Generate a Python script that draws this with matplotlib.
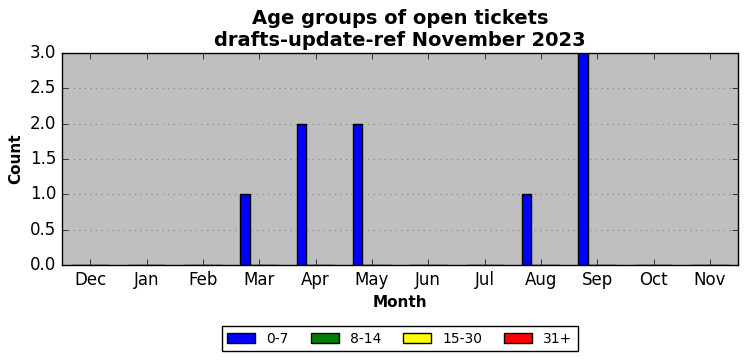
import numpy as np
import matplotlib.pyplot as plt

plt.style.use('classic')

months = ['Dec', 'Jan', 'Feb', 'Mar', 'Apr', 'May', 'Jun', 'Jul', 'Aug', 'Sep', 'Oct', 'Nov']
age_0_7 = [0, 0, 0, 1, 2, 2, 0, 0, 1, 3, 0, 0]
age_8_14 = [0, 0, 0, 0, 0, 0, 0, 0, 0, 0, 0, 0]
age_15_30 = [0, 0, 0, 0, 0, 0, 0, 0, 0, 0, 0, 0]
age_31 = [0, 0, 0, 0, 0, 0, 0, 0, 0, 0, 0, 0]

series = [('0-7', age_0_7, 'blue'), ('8-14', age_8_14, 'green'),
          ('15-30', age_15_30, 'yellow'), ('31+', age_31, 'red')]

fig = plt.figure(figsize=(7.47, 3.61), dpi=100, facecolor='white')
ax = fig.add_axes([0.083, 0.266, 0.905, 0.587])
ax.set_facecolor('#bfbfbf')

x = np.arange(len(months))
w = 1.0 / 6
for i, (name, vals, col) in enumerate(series):
    ax.bar(x + (i - 2) * w, vals, width=w, align='edge', color=col,
           edgecolor='black', linewidth=1, label=name)

ax.set_xticks(x)
ax.set_xticklabels(months)
ax.set_xlim(-0.5, len(months) - 0.5)
ax.set_ylim(0, 3)
ax.set_yticks(np.arange(0, 3.01, 0.5))
ax.grid(True, axis='y', color='#909090', linestyle=':', linewidth=0.8)
ax.set_axisbelow(True)
ax.tick_params(labelsize=12)

ax.set_title('Age groups of open tickets\ndrafts-update-ref November 2023',
             fontsize=14, fontweight='bold')
ax.set_xlabel('Month', fontsize=11, fontweight='bold')
ax.set_ylabel('Count', fontsize=11, fontweight='bold')

ax.legend(loc='upper center', bbox_to_anchor=(0.5, -0.255), ncol=4,
          fontsize=10, fancybox=False, frameon=True, handlelength=2,
          columnspacing=1.6, borderpad=0.4)

fig.savefig('out.png', dpi=100, facecolor='white')
